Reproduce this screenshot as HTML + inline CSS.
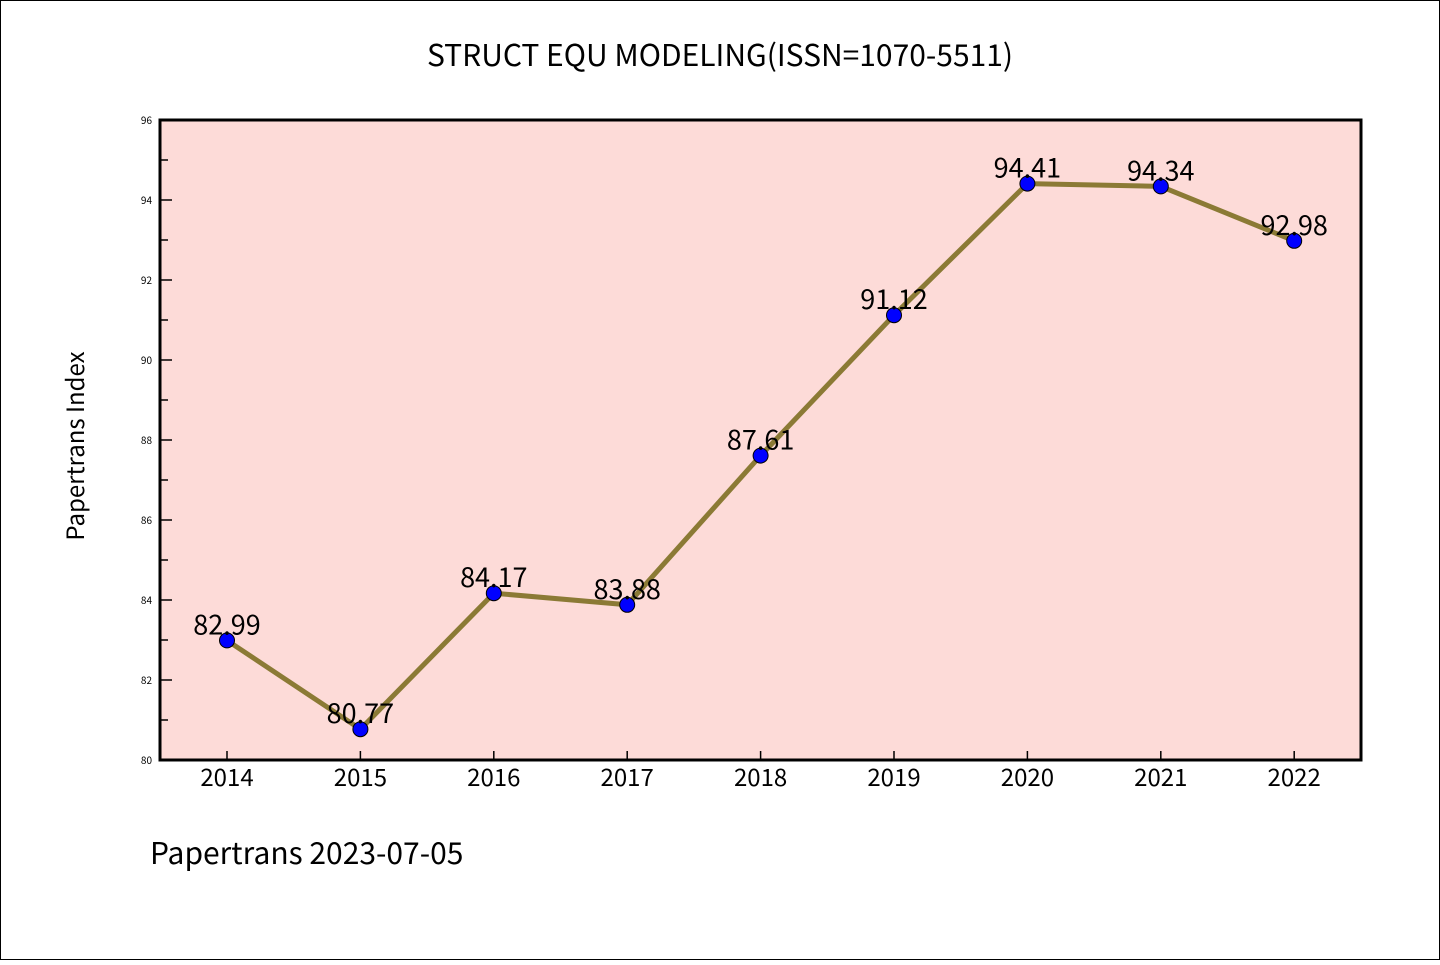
<!DOCTYPE html>
<html><head><meta charset="utf-8"><style>
body{margin:0;background:#fff}
svg text{font-family:"WenQuanYi Zen Hei","Noto Sans CJK SC","Liberation Sans",sans-serif}
</style></head><body>
<svg width="1440" height="960" viewBox="0 0 1440 960">
<rect x="0.5" y="0.5" width="1439" height="959" fill="#fff" stroke="#000"/>
<text x="720" y="66" font-size="30" text-anchor="middle">STRUCT EQU MODELING(ISSN=1070-5511)</text>
<rect x="160" y="120" width="1201" height="640" fill="#fddbd8"/>
<g id="yaxis"></g>
<g id="xaxis"></g>
<g id="series"></g>
<rect x="160" y="120" width="1201" height="640" fill="none" stroke="#000" stroke-width="3"/>
<text transform="translate(84,446) rotate(-90)" font-size="24" text-anchor="middle">Papertrans Index</text>
<text x="150" y="864" font-size="30">Papertrans 2023-07-05</text>
</svg>
<script>
const years=["2014","2015","2016","2017","2018","2019","2020","2021","2022"];
const values=[82.99,80.77,84.17,83.88,87.61,91.12,94.41,94.34,92.98];
const labels=["82.99","80.77","84.17","83.88","87.61","91.12","94.41","94.34","92.98"];
const yTicks=[80,82,84,86,88,90,92,94,96];
(function(){
const NS="http://www.w3.org/2000/svg";
const yMin=80,yMax=96,pTop=120,pBot=760;
function sy(v){return pBot-(v-yMin)/(yMax-yMin)*(pBot-pTop);}
function sx(i){return 227+i*133.4;}
function mk(t,a,p){const e=document.createElementNS(NS,t);for(const k in a)e.setAttribute(k,a[k]);p.appendChild(e);return e;}
const ya=document.getElementById('yaxis');
yTicks.forEach((v,i)=>{
 const y=sy(v);
 const l=mk('line',{x1:160,x2:172,y1:y,y2:y,stroke:'#000','stroke-width':1.5},ya);
 
 
 const t=mk('text',{x:152,y:y+4,'font-size':10,'text-anchor':'end'},ya);
 t.textContent=v;
 
 
 if(i<yTicks.length-1){
  const m=sy(v+1);
  const ml=mk('line',{x1:160,x2:168,y1:m,y2:m,stroke:'#000','stroke-width':1.5},ya);
  
  
 }
});
const xa=document.getElementById('xaxis');
years.forEach((yr,i)=>{
 const x=sx(i);
 const l=mk('line',{x1:x,x2:x,y1:pBot,y2:pBot-9,stroke:'#000','stroke-width':1.5},xa);
 
 
 const t=mk('text',{x:x,y:786,'font-size':24,'text-anchor':'middle'},xa);
 t.textContent=yr;
 
 
});
const s=document.getElementById('series');
const pts=values.map((v,i)=>sx(i)+','+sy(v)).join(' ');
const pl=mk('polyline',{points:pts,fill:'none',stroke:'#8b7a35','stroke-width':5,'stroke-linejoin':'round'},s);


values.forEach((v,i)=>{
 const c=mk('circle',{cx:sx(i),cy:sy(v),r:7.5,fill:'#0000ff',stroke:'#000','stroke-width':1},s);
 
 
});
values.forEach((v,i)=>{
 const t=mk('text',{x:sx(i),y:sy(v)-6,'font-size':27,'text-anchor':'middle'},s);
 t.textContent=labels[i];
 
 
});
})();
</script>
</body></html>
